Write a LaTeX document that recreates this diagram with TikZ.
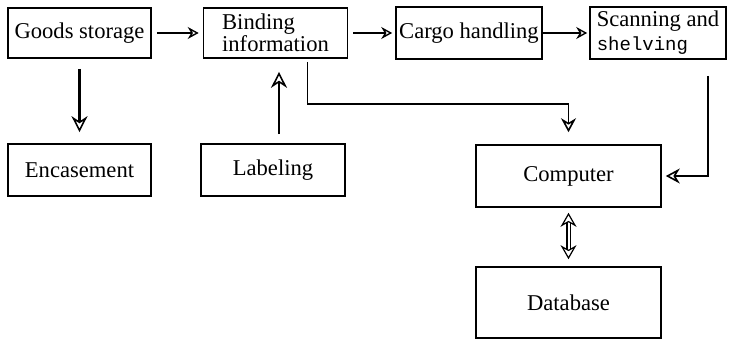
\documentclass[tikz,border=0pt]{standalone}
\usepackage{fontspec}
\setmainfont{Liberation Serif}
\setmonofont{Liberation Mono}
\usetikzlibrary{positioning, shapes}
\usetikzlibrary{arrows.meta}

\begin{document}
\begin{tikzpicture}[x=0.5pt,y=-0.5pt]
            \tikzset{box/.style = {draw, line width=0.8pt, inner sep=0pt, font=\fontsize{11.3}{11}\selectfont}}
            \tikzset{edge/.style = {-{Stealth[open,length=5.5pt,width=6pt,line width=0.7pt]}, line width=1pt}}
            \tikzset{downedge/.style = {-{Stealth[open,length=8pt,width=8pt,line width=0.8pt]}, line width=1.4pt}}
            \tikzset{thinedge/.style = {-{Stealth[open,length=7pt,width=7.5pt,line width=0.8pt]}, line width=0.8pt}}
            \tikzset{dbledge/.style = {{Stealth[open,length=7pt,width=8pt]}-{Stealth[open,length=7pt,width=8pt]}, double, double distance=1pt, line width=0.6pt}}
            \useasboundingbox (0,0) rectangle (730,341);

            % top row
            \node[box, minimum width=71.5pt, minimum height=25pt] (goods) at (79.5,33) {Goods storage};
            \node[box, minimum width=72pt, minimum height=25pt, align=left] (binding) at (275.5,33) {Binding\\information};
            \node[box, minimum width=73pt, minimum height=26pt] (cargo) at (469,33) {Cargo handling};
            \node[box, minimum width=68pt, minimum height=26pt, align=left, font=\fontsize{11.3}{12}\selectfont] (scanning) at (658,33) {Scanning and\\{\ttfamily\fontsize{9.5}{12}\selectfont shelving}};

            % lower boxes
            \node[box, minimum width=71.5pt, minimum height=26pt] (encasement) at (79.5,170) {Encasement};
            \node[box, minimum width=72pt, minimum height=26pt] (labeling) at (273,170) {Labeling};
            \node[box, minimum width=92.5pt, minimum height=31pt] (computer) at (568.5,176) {Computer};
            \node[box, minimum width=92.5pt, minimum height=35.5pt] (database) at (568.5,302.5) {Database};

            % flow along the top
            \draw[edge, shorten <=2.5pt, shorten >=2pt] (goods) -- (binding);
            \draw[edge, shorten <=2.5pt, shorten >=1.5pt] (binding) -- (cargo);
            \draw[edge, shorten >=1pt] (cargo) -- (scanning);

            % vertical links
            \draw[downedge, shorten <=5pt, shorten >=5.5pt] (goods) -- (encasement);
            \draw[downedge, shorten <=4.5pt, shorten >=6.5pt] ([xshift=3pt]labeling.north) -- ([xshift=3pt]labeling.north |- binding.south);

            % links to the computer
            \draw[thinedge, shorten <=1.5pt, shorten >=6pt] ([xshift=16pt]binding.south) -- ++(0,45) -| (computer.north);
            \draw[thinedge, shorten <=8pt, shorten >=2pt] ([xshift=25pt]scanning.south) |- (computer.east);
            \draw[dbledge, shorten <=2.5pt, shorten >=3.5pt] (computer) -- (database);

\end{tikzpicture}
\end{document}
